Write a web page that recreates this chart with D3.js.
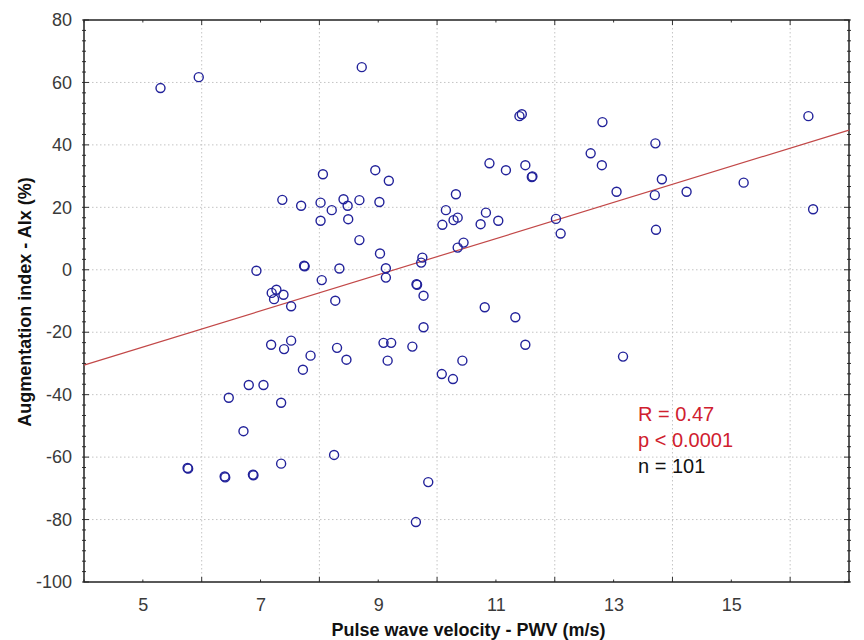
<!DOCTYPE html>
<html>
<head>
<meta charset="utf-8">
<script src="https://cdn.jsdelivr.net/npm/d3@7"></script>
<style>
  body { margin: 0; background: #fff; }
  text { font-family: "Liberation Sans", Arial, sans-serif; }
</style>
</head>
<body>
<svg id="chart" width="864" height="640"></svg>
<script>
// PWV (m/s) vs AIx (%), n = 101
var pwv = [5.30, 5.95, 7.37, 8.72, 11.40, 11.44, 8.06, 8.95, 9.18, 10.89, 11.17, 11.50, 11.61,
  7.69, 8.02, 8.21, 8.41, 8.48, 8.68, 9.02, 10.32, 10.15, 10.83, 12.81, 12.61, 12.80, 13.71,
  16.31, 13.82, 13.05, 13.70, 14.24, 15.21, 16.39, 12.02, 6.93, 7.27, 7.19, 7.23, 7.39, 7.52,
  7.18, 7.40, 7.52, 6.80, 7.05, 6.46, 7.35, 6.71, 7.72, 8.02, 8.49, 10.09, 10.28, 10.35, 10.74,
  11.04, 12.10, 8.68, 9.03, 9.75, 9.73, 10.35, 10.45, 7.74, 8.34, 9.13, 9.13, 8.04, 9.65, 9.77,
  8.27, 10.81, 11.33, 9.77, 7.85, 8.30, 8.46, 9.09, 9.22, 9.16, 9.58, 11.50, 10.43, 10.08, 10.27,
  13.72, 13.16, 5.76, 6.39, 6.87, 7.35, 8.25, 9.85, 9.64,
  5.77, 6.40, 6.88, 11.62, 9.66, 7.75];
var aix = [58.2, 61.7, 22.4, 64.9, 49.2, 49.8, 30.6, 31.9, 28.5, 34.1, 31.9, 33.5, 29.7,
  20.5, 21.5, 19.1, 22.6, 20.5, 22.3, 21.7, 24.2, 19.1, 18.3, 47.3, 37.3, 33.5, 40.5,
  49.2, 29.0, 25.0, 23.9, 25.0, 27.9, 19.4, 16.3, -0.3, -6.4, -7.4, -9.4, -8.0, -11.7,
  -24.0, -25.4, -22.7, -36.9, -36.9, -41.0, -42.6, -51.7, -32.0, 15.7, 16.2, 14.4, 15.9, 16.7, 14.6,
  15.7, 11.6, 9.5, 5.2, 3.9, 2.3, 7.1, 8.7, 1.3, 0.4, 0.5, -2.5, -3.3, -4.6, -8.3,
  -9.9, -12.0, -15.2, -18.4, -27.5, -25.0, -28.8, -23.4, -23.4, -29.1, -24.6, -24.0, -29.1, -33.4, -35.0,
  12.8, -27.8, -63.5, -66.2, -65.6, -62.1, -59.3, -68.0, -80.8,
  -63.7, -66.5, -65.8, 29.9, -4.8, 1.1];

var regIntercept = -53.7;
var regSlope = 5.79;

var xDomain = [4, 17];
var yDomain = [-100, 80];
var xLabelTicks = [5, 7, 9, 11, 13, 15];
var xGridTicks = [6, 8, 10, 12, 14, 16];
var yLabelTicks = [-100, -80, -60, -40, -20, 0, 20, 40, 60, 80];

var statLines = ["R = 0.47", "p < 0.0001", "n = 101"];
var statColors = ["#d0202e", "#d0202e", "#111"];

var margin = {left: 84, top: 20, right: 15, bottom: 58};
var svg = d3.select("#chart");
var W = 864 - margin.left - margin.right, H = 640 - margin.top - margin.bottom;

var x = d3.scaleLinear().domain(xDomain).range([0, W]);
var y = d3.scaleLinear().domain(yDomain).range([H, 0]);

var g = svg.append("g").attr("transform", "translate(" + margin.left + "," + margin.top + ")");

// grid
g.append("g").selectAll("line").data(xGridTicks).enter().append("line")
  .attr("x1", d => x(d)).attr("x2", d => x(d)).attr("y1", 0).attr("y2", H)
  .attr("stroke", "#c4c4c4").attr("stroke-dasharray", "1.5,2.5");
g.append("g").selectAll("line").data(yLabelTicks.slice(1, -1)).enter().append("line")
  .attr("y1", d => y(d)).attr("y2", d => y(d)).attr("x1", 0).attr("x2", W)
  .attr("stroke", "#c4c4c4").attr("stroke-dasharray", "1.5,2.5");

// ticks, minor ones every unit on x and every 20/6 on y
var xMinor = d3.range(xDomain[0], xDomain[1] + 0.001, 1);
var yMinor = d3.range(0, 55).map(i => yDomain[0] + i * 20 / 6);
var tickG = g.append("g").attr("stroke", "#333").attr("stroke-width", 1);
xMinor.forEach(function (d) {
  var big = xGridTicks.indexOf(d) > -1 ? 5 : 2.5;
  tickG.append("line").attr("x1", x(d)).attr("x2", x(d)).attr("y1", H).attr("y2", H - big);
  tickG.append("line").attr("x1", x(d)).attr("x2", x(d)).attr("y1", 0).attr("y2", big);
});
yMinor.forEach(function (d, i) {
  var big = i % 6 === 0 ? 5 : 2;
  tickG.append("line").attr("y1", y(d)).attr("y2", y(d)).attr("x1", -2).attr("x2", big);
  tickG.append("line").attr("y1", y(d)).attr("y2", y(d)).attr("x1", W - big).attr("x2", W + 2);
});

// frame
g.append("rect").attr("width", W).attr("height", H)
  .attr("fill", "none").attr("stroke", "#222").attr("stroke-width", 1.5);

// tick labels via axes (plain hyphen for negatives, like the original)
var xAxis = g.append("g").attr("transform", "translate(0," + H + ")")
  .call(d3.axisBottom(x).tickValues(xLabelTicks).tickSize(0).tickPadding(16).tickFormat(d => String(d)));
var yAxis = g.append("g")
  .call(d3.axisLeft(y).tickValues(yLabelTicks).tickSize(0).tickPadding(12).tickFormat(d => String(d)));
[xAxis, yAxis].forEach(function (a) {
  a.select(".domain").remove();
  a.selectAll("text").attr("font-size", 18).attr("fill", "#3a3a3a")
    .attr("font-family", "Liberation Sans, Arial, sans-serif");
});

// regression line
g.append("line")
  .attr("x1", x(xDomain[0])).attr("y1", y(regIntercept + regSlope * xDomain[0]))
  .attr("x2", x(xDomain[1])).attr("y2", y(regIntercept + regSlope * xDomain[1]))
  .attr("stroke", "#c24848").attr("stroke-width", 1.2);

// points
g.append("g").selectAll("circle").data(d3.range(pwv.length)).enter().append("circle")
  .attr("cx", i => x(pwv[i])).attr("cy", i => y(aix[i])).attr("r", 4.5)
  .attr("fill", "none").attr("stroke", "#22229a").attr("stroke-width", 1.4);

// stats text
g.append("g").selectAll("text").data(statLines).enter().append("text")
  .attr("x", 554).attr("y", (d, i) => 401 + i * 26)
  .attr("font-size", 20).attr("fill", (d, i) => statColors[i])
  .text(d => d);

// axis titles
svg.append("text").attr("x", margin.left + W / 2 + 2).attr("y", 636)
  .attr("text-anchor", "middle").attr("font-size", 18).attr("font-weight", "bold").attr("fill", "#111")
  .text("Pulse wave velocity - PWV (m/s)");
svg.append("text").attr("transform", "translate(31,302) rotate(-90)")
  .attr("text-anchor", "middle").attr("font-size", 18).attr("font-weight", "bold").attr("fill", "#111")
  .text("Augmentation index - AIx (%)");
</script>
</body>
</html>
